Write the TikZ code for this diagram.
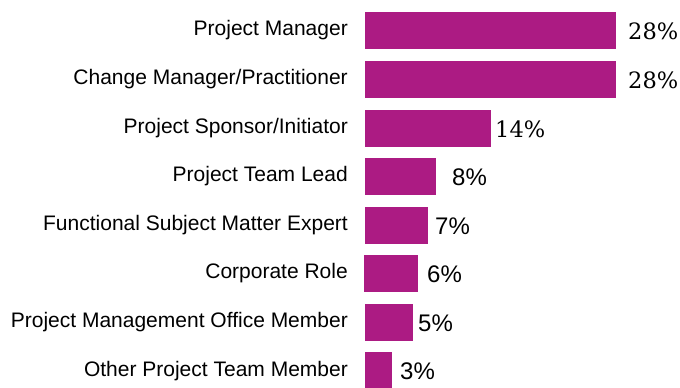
\documentclass[tikz,border=0pt]{standalone}
\usepackage{fontspec}
\setmainfont{Liberation Sans}
\newfontfamily\slabfont{DejaVu Serif}
\usetikzlibrary{positioning}
\usepackage{xcolor}
\definecolor{barmagenta}{RGB}{172,27,131}

\begin{document}
\begin{tikzpicture}[x=1pt, y=-1pt,
    bar/.style={
        rectangle,
        fill=barmagenta,
        inner sep=0pt,
        minimum height=36.7pt,
        anchor=west
    },
    rolename/.style={
        inner sep=0pt,
        anchor=base east,
        font=\fontsize{21}{22}\selectfont
    },
    share/.style={
        inner sep=0pt,
        anchor=base west,
        font=\fontsize{24}{26}\selectfont
    },
    slabshare/.style={
        share,
        font=\slabfont\fontsize{22.5}{24}\selectfont
    }]
    \useasboundingbox (0, 0) rectangle (680, 388);

    \node (project_manager_label) [rolename] at (348, 35.8) {Project Manager};
    \node (change_manager_label) [rolename] at (348, 84.8) {Change Manager/Practitioner};
    \node (project_sponsor_label) [rolename] at (348, 133.8) {Project Sponsor/Initiator};
    \node (team_lead_label) [rolename] at (348, 181.8) {Project Team Lead};
    \node (subject_expert_label) [rolename] at (348, 230.8) {Functional Subject Matter Expert};
    \node (corporate_role_label) [rolename] at (348, 278.8) {Corporate Role};
    \node (pmo_member_label) [rolename] at (348, 327.8) {Project Management Office Member};
    \node (other_member_label) [rolename] at (348, 376) {Other Project Team Member};

    \node (project_manager_bar) [bar, minimum width=251pt] at (365, 30.3) {};
    \node (change_manager_bar) [bar, minimum width=251pt] at (365, 79.3) {};
    \node (project_sponsor_bar) [bar, minimum width=126pt] at (365, 128.3) {};
    \node (team_lead_bar) [bar, minimum width=71pt] at (365, 176.3) {};
    \node (subject_expert_bar) [bar, minimum width=63pt] at (365, 225.3) {};
    \node (corporate_role_bar) [bar, minimum width=54pt] at (364, 273.3) {};
    \node (pmo_member_bar) [bar, minimum width=48pt] at (365, 322.3) {};
    \node (other_member_bar) [bar, minimum width=27pt] at (365, 370.5) {};

    \node (project_manager_share) [slabshare] at (628, 39.3) {28\%};
    \node (change_manager_share) [slabshare] at (628, 88.3) {28\%};
    \node (project_sponsor_share) [slabshare] at (495, 137.5) {14\%};
    \node (team_lead_share) [share] at (452, 185.2) {8\%};
    \node (subject_expert_share) [share] at (435, 234.2) {7\%};
    \node (corporate_role_share) [share] at (427, 282.2) {6\%};
    \node (pmo_member_share) [share] at (418, 331.2) {5\%};
    \node (other_member_share) [share] at (400, 379.4) {3\%};
\end{tikzpicture}
\end{document}
